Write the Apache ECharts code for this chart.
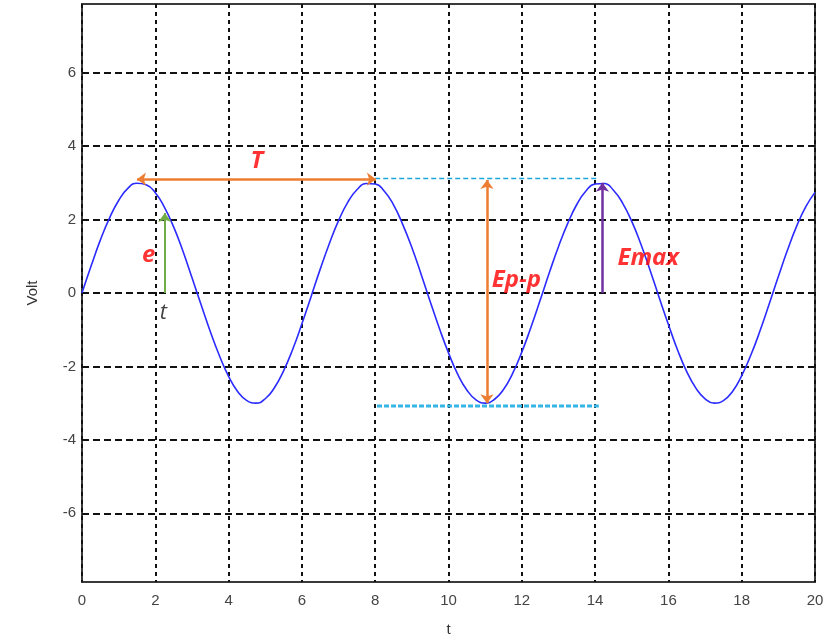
<!DOCTYPE html>
<html lang="en">
<head>
    <meta charset="UTF-8">
    <title>Volt - t</title>
    <style>
        *{ margin: 0; }
        html,body{ height: 100%; background: #fff; }
        #chart{ width: 834px; height: 638px; }
    </style>
    <script src="https://cdn.jsdelivr.net/npm/echarts@6/dist/echarts.min.js"></script>
</head>
<body>
<div id="chart"></div>
<script>
    // t 轴上每 0.25 读一个点
    const tValues = [];
    for (let i = 0; i <= 80; i++) tValues.push(i * 0.25);
    const voltValues = [
        0, 0.74, 1.44, 2.04, 2.52, 2.85, 2.99, 2.95, 2.73, 2.33, 1.80, 1.15, 0.42,
        -0.32, -1.05, -1.71, -2.27, -2.69, -2.93, -3.00, -2.88, -2.58, -2.12, -1.53, -0.84, -0.10,
        0.65, 1.35, 1.97, 2.47, 2.81, 2.98, 2.97, 2.77, 2.40, 1.87, 1.24, 0.52,
        -0.23, -0.96, -1.63, -2.21, -2.64, -2.91, -3.00, -2.90, -2.63, -2.19, -1.61, -0.93, -0.20,
        0.55, 1.26, 1.89, 2.41, 2.78, 2.97, 2.98, 2.80, 2.45, 1.95, 1.33, 0.62,
        -0.13, -0.86, -1.55, -2.14, -2.59, -2.88, -3.00, -2.93, -2.68, -2.25, -1.69, -1.03, -0.30,
        0.45, 1.17, 1.82, 2.35, 2.74
    ];
    const yTicks = [-6, -4, -2, 0, 2, 4, 6];

    // 标注线 [起点, 终点]
    const periodLine = [[1.5, 3.1], [8.02, 3.1]];
    const peakLine = [[8.0, 3.12], [14.1, 3.12]];
    const troughLine = [[8.05, -3.08], [14.1, -3.08]];
    const peakPeakLine = [[11.05, -3.0], [11.05, 3.08]];
    const emaxLine = [[14.2, 0], [14.2, 3.0]];
    const eLine = [[2.26, 0], [2.26, 2.18]];

    // 文字标注 [t, volt, 文本]
    const redNotes = [[4.77, 3.58, 'T'], [1.82, 1.03, 'e'], [11.85, 0.36, 'Ep-p'], [15.45, 0.95, 'Emax']];
    const blackNotes = [[2.22, -0.54, 't']];

    function zip(a, b) {
        return a.map(function (v, i) { return [v, b[i]]; });
    }

    function arrowLine(pts, color, width, arrows) {
        return {
            type: 'line',
            data: [],
            silent: true,
            markLine: {
                silent: true,
                animation: false,
                symbol: arrows,
                symbolSize: [10, 9],
                label: { show: false },
                lineStyle: { color: color, width: width, type: 'solid' },
                data: [[{ coord: pts[0] }, { coord: pts[1] }]]
            }
        };
    }

    function dashLine(pts, color, width, dash) {
        return {
            type: 'line',
            data: pts,
            symbol: 'none',
            silent: true,
            lineStyle: { color: color, width: width, type: dash },
            z: 3
        };
    }

    const chart = echarts.init(document.getElementById('chart'));
    chart.setOption({
        animation: false,
        grid: {
            left: 82, right: 19, top: 4, bottom: 56,
            outerBoundsMode: 'none',
            show: true, borderColor: '#3a3a3a', borderWidth: 2
        },
        xAxis: {
            type: 'value', min: 0, max: 20, interval: 2,
            name: 't', nameLocation: 'middle', nameGap: 40,
            nameTextStyle: { color: '#333', fontSize: 15, fontFamily: 'Liberation Sans' },
            axisLine: { show: false },
            axisTick: { show: false },
            axisLabel: { color: '#444', fontSize: 15, margin: 11, fontFamily: 'Liberation Sans' },
            splitLine: { show: true, lineStyle: { color: '#111', width: 2, type: [4, 4] } }
        },
        yAxis: {
            type: 'value', min: -7.87, max: 7.87,
            name: 'Volt', nameLocation: 'middle', nameGap: 42,
            nameTextStyle: { color: '#333', fontSize: 15, fontFamily: 'Liberation Sans' },
            axisLine: { show: false },
            axisTick: { show: false, customValues: yTicks },
            axisLabel: { color: '#444', fontSize: 15, margin: 6, fontFamily: 'Liberation Sans', customValues: yTicks },
            splitLine: { show: true, lineStyle: { color: '#111', width: 2, type: [7, 4] } }
        },
        series: [
            dashLine(peakLine, '#1aa7e0', 1.5, [5, 3]),
            dashLine(troughLine, '#35b5e5', 3, [5, 2]),
            {
                type: 'line',
                data: zip(tValues, voltValues),
                smooth: true,
                symbol: 'none',
                lineStyle: { color: '#2b2bff', width: 1.6 },
                z: 4
            },
            arrowLine(periodLine, '#ed7d31', 2.5, ['arrow', 'arrow']),
            arrowLine(peakPeakLine, '#ed7d31', 2.5, ['arrow', 'arrow']),
            arrowLine(emaxLine, '#7030a0', 2.5, ['none', 'arrow']),
            arrowLine(eLine, '#70ad47', 2, ['none', 'arrow']),
            {
                type: 'scatter',
                symbolSize: 0,
                silent: true,
                data: redNotes,
                label: {
                    show: true, position: 'inside',
                    formatter: function (p) { return p.data[2]; },
                    color: '#ff0000', fontSize: 24, fontWeight: 'bold', fontStyle: 'italic',
                    fontFamily: 'Open Sans'
                },
                z: 6
            },
            {
                type: 'scatter',
                symbolSize: 0,
                silent: true,
                data: blackNotes,
                label: {
                    show: true, position: 'inside',
                    formatter: function (p) { return p.data[2]; },
                    color: '#111', fontSize: 22, fontStyle: 'italic',
                    fontFamily: 'Open Sans'
                },
                z: 6
            }
        ]
    });
</script>
</body>
</html>
